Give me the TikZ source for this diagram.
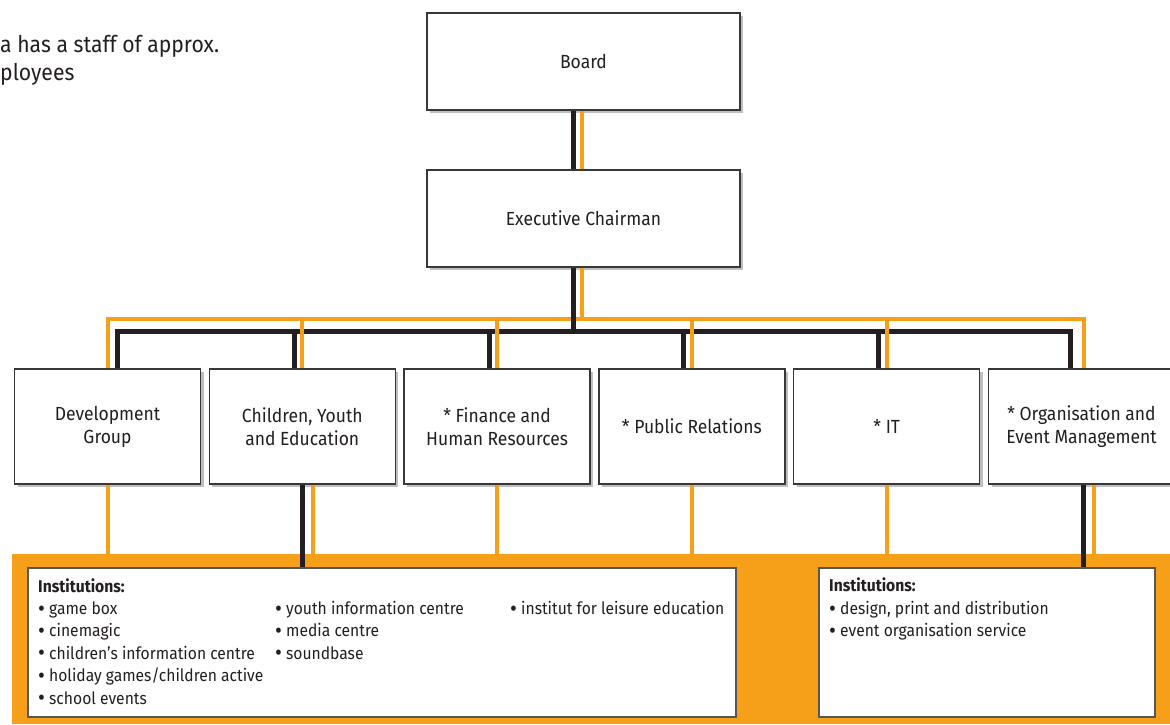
\documentclass[tikz,border=0pt]{standalone}
\usepackage{graphicx}
\usepackage{fontspec}
\setmainfont{Fira Sans}[FakeStretch=0.92]
\usetikzlibrary{shadows,calc}
\definecolor{orng}{HTML}{F6A01A}
\definecolor{ink}{HTML}{231F20}
\definecolor{frame}{HTML}{383838}
\newcommand{\itm}{\raisebox{-0.1em}{\scalebox{1.35}{•}}~}

\begin{document}
\begin{tikzpicture}[x=1pt,y=-1pt]
	\tikzset{box/.style={draw=frame, line width=1.3pt, fill=white, inner sep=0pt, align=center, text=ink,
			font=\fontsize{19}{23}\selectfont,
			drop shadow={shadow xshift=3pt, shadow yshift=-3pt, opacity=0.25, fill=black}},
		ibox/.style={draw=frame!85, line width=1.2pt, fill=white, inner sep=0pt},
		list/.style={anchor=north west, align=left, inner sep=0pt, text=ink, font=\fontsize{17}{22.4}\selectfont},
		blk/.style={ink, line width=5pt, line join=miter},
		org/.style={orng, line width=4pt, line join=miter}}
	\useasboundingbox (0,0) rectangle (1170,724);
	\node (staff) at (0,60) [anchor=west, align=left, inner sep=0pt, text=ink, font=\fontsize{23}{28}\selectfont] {a has a staff of approx.\\ployees};
	
	% orange band behind the institutions
	\fill[orng] (12,554) rectangle (1180,724);
	
	\node (board) at (583.5,61.5) [box, minimum width=313, minimum height=97] {Board};
	\node (exec) at (583.5,218.5) [box, minimum width=313, minimum height=97] {Executive Chairman};
	\foreach \t [count=\i] in {{Development\\Group}, {Children, Youth\\and Education}, {* Finance and\\Human Resources},
		{* Public Relations}, {* IT}, {* Organisation and\\Event Management}}
	\node (d\i) at (107.5+194.8*\i-194.8,426.5) [box, minimum width=186, minimum height=115] {\t};
	
	\node (inst1) at (382,642.5) [ibox, minimum width=708, minimum height=149] {};
	\node (inst2) at (987,642.5) [ibox, minimum width=336, minimum height=149] {};
	\node (col1) at (38,578) [list] {\textbf{Institutions:}\\\itm game box\\\itm cinemagic\\\itm children’s information centre\\\itm holiday games/children active\\\itm school events};
	\node (col2) at (275,578) [list] {\phantom{\textbf{Institutions:}}\\\itm youth information centre\\\itm media centre\\\itm soundbase};
	\node (col3) at (510,578) [list] {\phantom{\textbf{Institutions:}}\\\itm institut for leisure education};
	\node (col4) at (829,578) [list] {\textbf{Institutions:}\\\itm design, print and distribution\\\itm event organisation service};
	
	\coordinate (obus) at (0,319);
	\coordinate (kbus) at (0,331);
	\coordinate (band) at (0,554);
	
	\draw[org] ([xshift=-1.5pt]board.south) -- ([xshift=-1.5pt]exec.north);
	\draw[blk] ([xshift=-10.5pt]board.south) -- ([xshift=-10.5pt]exec.north);
	\draw[org] ([xshift=-1.5pt]exec.south) -- ([xshift=-1.5pt]exec.south |- obus);
	\draw[org] (d1.north) -- (d1.north |- obus) -- ([xshift=2.5pt]d6.north |- obus) -- ([xshift=2.5pt]d6.north);
	\draw[blk] ([xshift=-10.5pt]exec.south) -- ([xshift=-10.5pt]exec.south |- kbus);
	\draw[blk] ([xshift=9.5pt]d1.north) -- ([xshift=9.5pt]d1.north |- kbus) -- ([xshift=-11.5pt]d6.north |- kbus) -- ([xshift=-11.5pt]d6.north);
	\foreach \i in {2,...,5}
	\draw[blk] ([xshift=-8pt]d\i.north) -- ([xshift=-8pt]d\i.north |- kbus);
	\foreach \i in {2,...,5}
	\draw[org] (d\i.north) -- (d\i.north |- obus);
	
	\foreach \i in {1,3,4,5}
	\draw[org] (d\i.south) -- (d\i.south |- band);
	\draw[org] ([xshift=11pt]d2.south) -- ([xshift=11pt]d2.south |- band);
	\draw[org] ([xshift=12.5pt]d6.south) -- ([xshift=12.5pt]d6.south |- band);
	\draw[blk] (d2.south) -- (d2.south |- inst1.north);
	\draw[blk] ([xshift=1.5pt]d6.south) -- ([xshift=1.5pt]d6.south |- inst2.north);
\end{tikzpicture}
\end{document}
